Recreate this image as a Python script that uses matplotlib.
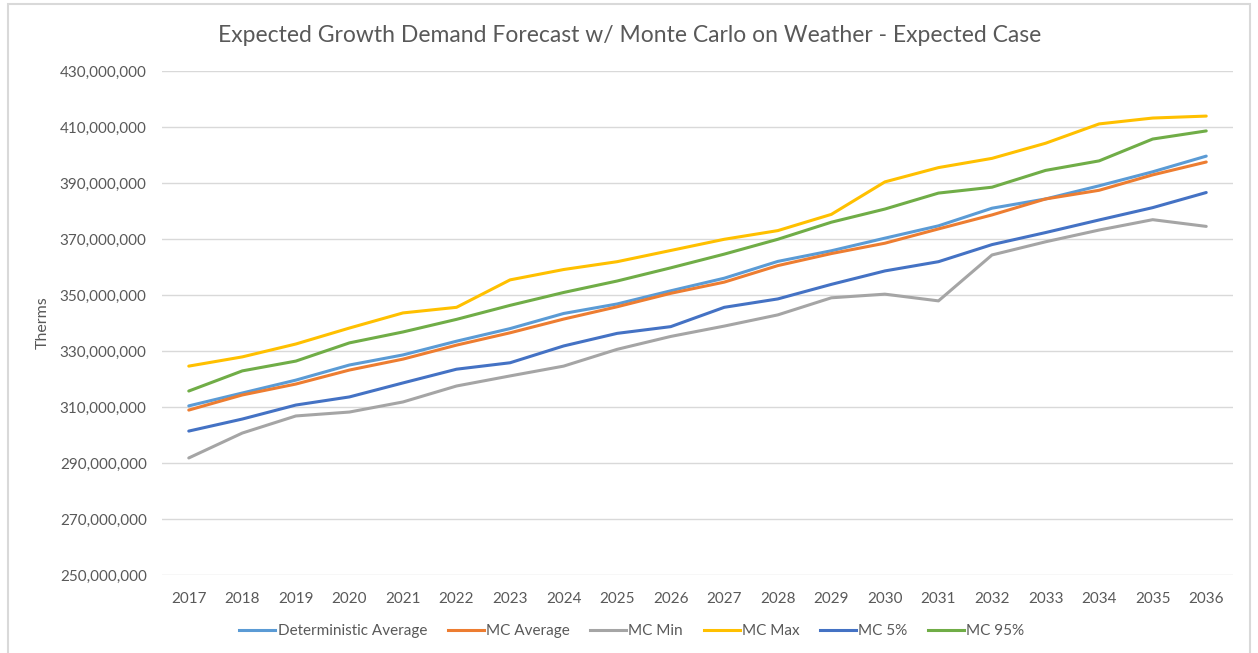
import matplotlib
matplotlib.use("Agg")
import matplotlib.pyplot as plt
from matplotlib.ticker import FuncFormatter
from matplotlib.patches import Rectangle
from matplotlib.lines import Line2D

years = list(range(2017, 2037))
deterministic_avg = [310.4, 315.0, 319.6, 325.0, 328.6, 333.5, 338.0, 343.4, 346.8, 351.5,
                     356.0, 362.0, 365.8, 370.3, 374.7, 381.0, 384.3, 389.0, 394.0, 399.6]
mc_average = [308.9, 314.3, 318.2, 323.2, 327.1, 332.1, 336.5, 341.4, 345.8, 350.6,
              354.6, 360.5, 364.8, 368.5, 373.6, 378.6, 384.3, 387.4, 392.9, 397.5]
mc_min = [291.8, 300.7, 306.8, 308.2, 311.8, 317.5, 321.1, 324.6, 330.6, 335.2,
          338.9, 342.9, 349.0, 350.3, 347.9, 364.3, 369.0, 373.2, 376.9, 374.5]
mc_max = [324.6, 327.9, 332.5, 338.2, 343.6, 345.6, 355.4, 359.1, 361.9, 365.9,
          369.9, 373.0, 378.8, 390.4, 395.5, 398.8, 404.2, 411.1, 413.2, 413.9]
mc_5 = [301.4, 305.7, 310.7, 313.6, 318.6, 323.5, 325.8, 331.8, 336.3, 338.7,
        345.6, 348.6, 353.8, 358.6, 361.9, 368.0, 372.3, 376.8, 381.2, 386.6]
mc_95 = [315.7, 322.9, 326.4, 332.9, 336.8, 341.3, 346.3, 350.9, 355.0, 359.7,
         364.6, 369.9, 376.0, 380.7, 386.4, 388.5, 394.5, 397.9, 405.7, 408.6]

series_names = ["Deterministic Average", "MC Average", "MC Min", "MC Max", "MC 5%", "MC 95%"]
series_vals = [deterministic_avg, mc_average, mc_min, mc_max, mc_5, mc_95]
colors = ["#5B9BD5", "#ED7D31", "#A5A5A5", "#FFC000", "#4472C4", "#70AD47"]

title = "Expected Growth Demand Forecast w/ Monte Carlo on Weather - Expected Case"
y_ticks = list(range(250, 431, 20))

plt.rcParams['font.family'] = ['Lato', 'DejaVu Sans']
W, H = 1258, 653
fig = plt.figure(figsize=(W / 100, H / 100), dpi=100)
ax = fig.add_axes([162 / W, 1 - 575 / H, (1233 - 162) / W, (575 - 71) / H])

lw = 2.2
for name, vals, c in zip(series_names, series_vals, colors):
    ax.plot(years, [v * 1e6 for v in vals], color=c, lw=lw, solid_capstyle='round',
            solid_joinstyle='round', label=name)

ax.set_xlim(2016.5, 2036.5)
ax.set_ylim(250e6, 430e6)
ax.set_yticks([t * 1e6 for t in y_ticks])
ax.yaxis.set_major_formatter(FuncFormatter(lambda v, p: f"{int(round(v)):,}"))
ax.set_xticks(years)
ax.set_xticklabels([str(y) for y in years])
ax.grid(axis='y', color='#D9D9D9', lw=1.0)
ax.set_axisbelow(True)
for s in ax.spines.values():
    s.set_visible(False)
ax.tick_params(axis='both', length=0, labelsize=11, colors='#595959')
ax.tick_params(axis='y', pad=11)
ax.tick_params(axis='x', pad=12)
ax.set_ylabel("Therms", fontsize=11.5, color='#595959', labelpad=7)

fig.text(630 / W, 1 - 35 / H, title, ha='center', va='center', fontsize=16.5, color='#595959')

handles = [Line2D([0], [0], color=c, lw=lw) for c in colors]
fig.legend(handles, series_names, loc='center', bbox_to_anchor=(632 / W, 1 - 631 / H),
           ncol=6, frameon=False, fontsize=11, labelcolor='#595959',
           handlelength=2.35, handletextpad=0.15, columnspacing=1.35)

# chart frame
fig.patches.append(Rectangle((7.5 / W, -0.05), (1250 - 7.5) / W, 1.05 - 3.5 / H,
                             transform=fig.transFigure, fill=False, edgecolor='#D9D9D9',
                             lw=1.5))

fig.savefig("out.png", dpi=100, facecolor='white')
